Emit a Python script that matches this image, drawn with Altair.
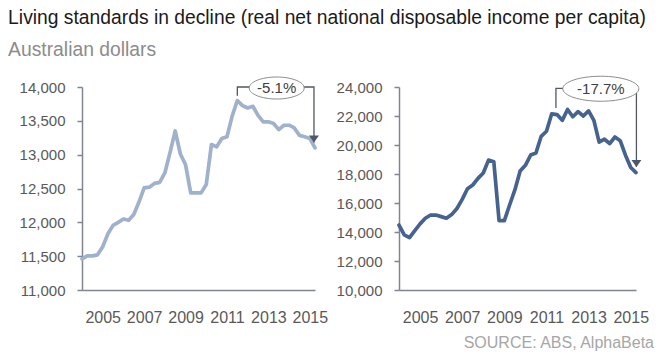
import altair as alt
import pandas as pd

FONT = "Liberation Sans"

# ---- data (quarterly, 2004 Q1 .. 2015 Q2) ----
quarters = [2004 + i * 0.25 for i in range(46)]

left_values = [11460, 11505, 11505, 11520, 11640, 11830, 11955, 12000, 12050, 12030,
               12115, 12300, 12510, 12520, 12575, 12590, 12730, 13030, 13350, 13010,
               12850, 12435, 12435, 12435, 12560, 13150, 13115, 13240, 13265, 13570,
               13800, 13725, 13690, 13715, 13580, 13485, 13485, 13460, 13370, 13435,
               13435, 13395, 13285, 13265, 13240, 13100]

right_values = [14480, 13800, 13610, 14100, 14560, 14950, 15170, 15170, 15060, 14950,
                15200, 15620, 16250, 16980, 17240, 17700, 18070, 18960, 18850, 14780,
                14780, 15860, 16900, 18200, 18600, 19310, 19450, 20600, 20950, 22150,
                22100, 21700, 22450, 21950, 22300, 22000, 22350, 21700, 20200, 20400,
                20100, 20550, 20300, 19300, 18450, 18100]

year_ticks = [2005, 2007, 2009, 2011, 2013, 2015]
left_ticks = [11000, 11500, 12000, 12500, 13000, 13500, 14000]
right_ticks = [10000, 12000, 14000, 16000, 18000, 20000, 22000, 24000]

# annotation: bracket points (x, y), label, ellipse centre
left_bracket_x = [2011.5, 2011.5, 2015.2, 2015.2]
left_bracket_y = [13870, 14000, 14000, 13180]
left_label = "-5.1%"
left_label_pos = (2013.4, 13985)

right_bracket_x = [2011.45, 2011.45, 2015.27, 2015.27]
right_bracket_y = [22550, 23900, 23900, 18480]
right_label = "-17.7%"
right_label_pos = (2013.58, 23880)

LEFT_COLOR = "#9fb1cc"
RIGHT_COLOR = "#46628f"
AXIS_COLOR = "#7f8591"
LABEL_COLOR = "#595959"
BRACKET_COLOR = "#4f5868"


def ellipse_path(ry):
    k = 0.5523
    return (f"M1,0 C1,{k*ry:.4f} {k:.4f},{ry:.4f} 0,{ry:.4f} "
            f"C{-k:.4f},{ry:.4f} -1,{k*ry:.4f} -1,0 "
            f"C-1,{-k*ry:.4f} {-k:.4f},{-ry:.4f} 0,{-ry:.4f} "
            f"C{k:.4f},{-ry:.4f} 1,{-k*ry:.4f} 1,0 Z")


ARROW_PATH = "M-1,-1.4 L1,-1.4 L0,0 Z"


def panel(values, color, ydomain, yticks, bx, by, label, lpos, ell_w, ell_h, width):
    x_enc = alt.X("t:Q", scale=alt.Scale(domain=[2004, 2015.25], nice=False, zero=False),
                  axis=alt.Axis(values=year_ticks, format="d", title=None, grid=False,
                                ticks=False, tickSize=0, labelPadding=19,
                                labelFontSize=16, labelFont=FONT, labelColor=LABEL_COLOR,
                                domainColor=AXIS_COLOR, domainWidth=1.5, labelFlush=False))
    y_enc = alt.Y("v:Q", scale=alt.Scale(domain=ydomain, nice=False, zero=False),
                  axis=alt.Axis(values=yticks, format=",.0f", title=None, grid=False,
                                tickSize=5, tickColor=AXIS_COLOR, tickWidth=1.5,
                                labelPadding=12, labelFontSize=15, labelFont=FONT,
                                labelColor=LABEL_COLOR, domainColor=AXIS_COLOR,
                                domainWidth=1.5))

    df = pd.DataFrame({"t": quarters, "v": values})
    line = alt.Chart(df).mark_line(color=color, strokeWidth=3.7, strokeJoin="round",
                                   strokeCap="round").encode(x=x_enc, y=y_enc)

    bdf = pd.DataFrame({"i": list(range(len(bx))), "t": bx, "v": by})
    bracket = alt.Chart(bdf).mark_line(color=BRACKET_COLOR, strokeWidth=1.3).encode(
        x=x_enc, y=y_enc, order="i:O")

    adf = pd.DataFrame({"t": [bx[-1]], "v": [by[-1]]})
    arrow = alt.Chart(adf).mark_point(shape=ARROW_PATH, size=100, filled=True,
                                      color=BRACKET_COLOR, opacity=1).encode(x=x_enc, y=y_enc)

    ldf = pd.DataFrame({"t": [lpos[0]], "v": [lpos[1]], "label": [label]})
    ell = alt.Chart(ldf).mark_point(shape=ellipse_path(ell_h / ell_w), size=ell_w ** 2,
                                    filled=False, fill="white", fillOpacity=1,
                                    stroke="#8c8c8c", strokeWidth=1,
                                    opacity=1).encode(x=x_enc, y=y_enc)
    txt = alt.Chart(ldf).mark_text(font=FONT, fontSize=15, color="#404040",
                                   align="center", baseline="middle").encode(
        x=x_enc, y=y_enc, text="label:N")

    return alt.layer(line, bracket, arrow, ell, txt).properties(width=width, height=203)


left = panel(left_values, LEFT_COLOR, [11000, 14000], left_ticks,
             left_bracket_x, left_bracket_y, left_label, left_label_pos, 55, 22, 233)
right = panel(right_values, RIGHT_COLOR, [10000, 24000], right_ticks,
              right_bracket_x, right_bracket_y, right_label, right_label_pos, 76, 25, 237)
right = right.properties(title=alt.TitleParams(
    "SOURCE: ABS, AlphaBeta", orient="bottom", anchor="end", frame="group", dx=18,
    offset=10, fontSize=16, font=FONT, fontWeight="normal", color="#a6a6a6"))

chart = alt.hconcat(left, right, spacing=8).properties(
    title=alt.TitleParams(
        text="Living standards in decline (real net national disposable income per capita)",
        subtitle="Australian dollars", anchor="start", frame="bounds", dx=-11, offset=14,
        fontSize=19.3, font=FONT, fontWeight="normal", color="#1a1a1a",
        subtitleFontSize=19.3, subtitleFont=FONT, subtitleColor="#8c8c8c",
        subtitlePadding=13)
).configure(padding={"left": 0, "top": 0, "right": 0, "bottom": 5}
).configure_view(stroke=None)

chart.save("out.html", embed_options={"renderer": "svg", "actions": False})
